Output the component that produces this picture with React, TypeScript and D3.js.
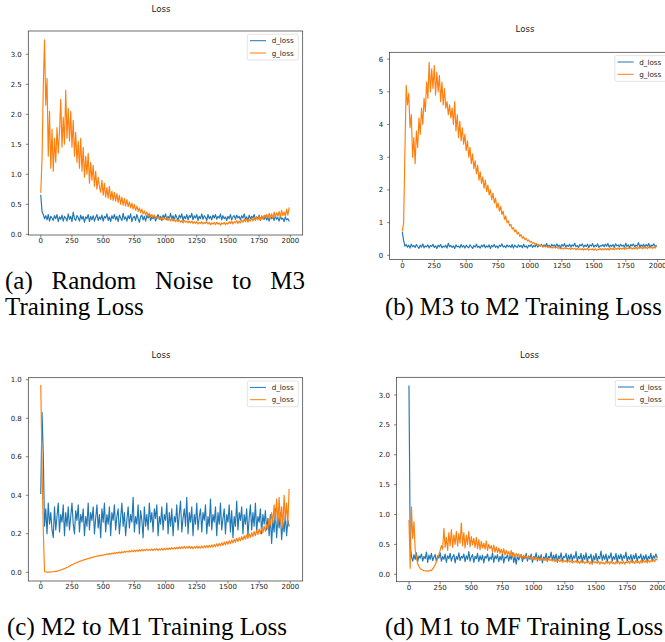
import React, { useLayoutEffect, useRef } from "react";
import * as d3 from "d3";

// ---------------- data ----------------
const EPOCH_STEP = 10;
const X_TICKS = [0, 250, 500, 750, 1000, 1250, 1500, 1750, 2000];
const Y_TICKS_A = [0, 0.5, 1, 1.5, 2, 2.5, 3];
const Y_TICKS_B = [0, 1, 2, 3, 4, 5, 6];
const Y_TICKS_C = [0, 0.2, 0.4, 0.6, 0.8, 1.0];
const Y_TICKS_D = [0, 0.5, 1, 1.5, 2, 2.5, 3];
const SERIES_NAMES = ["d_loss", "g_loss"];
const SERIES_COLORS = ["#1f77b4", "#ff7f0e"];
const TITLE = "Loss";

const A_D = [
  0.65, 0.38, 0.33, 0.26, 0.31, 0.24, 0.33, 0.22, 0.30, 0.27,
  0.23, 0.31, 0.26, 0.33, 0.21, 0.29, 0.25, 0.32, 0.22, 0.30,
  0.27, 0.22, 0.34, 0.25, 0.30, 0.21, 0.37, 0.26, 0.23, 0.31,
  0.28, 0.22, 0.32, 0.25, 0.30, 0.20, 0.29, 0.26, 0.33, 0.21,
  0.30, 0.24, 0.31, 0.22, 0.28, 0.33, 0.23, 0.29, 0.25, 0.32,
  0.22, 0.30, 0.27, 0.34, 0.23, 0.29, 0.21, 0.31, 0.26, 0.33,
  0.24, 0.30, 0.21, 0.32, 0.27, 0.23, 0.35, 0.25, 0.29, 0.22,
  0.31, 0.26, 0.34, 0.21, 0.28, 0.30, 0.23, 0.33, 0.26, 0.20,
  0.29, 0.32, 0.24, 0.30, 0.22, 0.31, 0.27, 0.34, 0.23, 0.29,
  0.26, 0.31, 0.22, 0.28, 0.33, 0.25, 0.30, 0.23, 0.32, 0.27,
  0.34, 0.24, 0.30, 0.26, 0.35, 0.25, 0.31, 0.23, 0.33, 0.28,
  0.24, 0.32, 0.27, 0.34, 0.23, 0.30, 0.26, 0.33, 0.24, 0.31,
  0.28, 0.35, 0.24, 0.31, 0.27, 0.33, 0.23, 0.30, 0.26, 0.34,
  0.25, 0.31, 0.28, 0.23, 0.33, 0.26, 0.30, 0.24, 0.32, 0.27,
  0.33, 0.25, 0.30, 0.27, 0.34, 0.24, 0.31, 0.26, 0.29, 0.23,
  0.30, 0.26, 0.33, 0.24, 0.29, 0.31, 0.25, 0.32, 0.27, 0.30,
  0.24, 0.31, 0.27, 0.34, 0.25, 0.29, 0.23, 0.32, 0.26, 0.30,
  0.27, 0.33, 0.24, 0.29, 0.26, 0.32, 0.23, 0.30, 0.27, 0.25,
  0.31, 0.24, 0.28, 0.22, 0.30, 0.26, 0.29, 0.23, 0.31, 0.25,
  0.28, 0.22, 0.30, 0.25, 0.27, 0.21, 0.29, 0.24, 0.26, 0.22,
];
const A_G = [
  0.70, 1.25, 2.45, 3.24, 2.15, 2.60, 1.30, 2.05, 1.10, 1.75,
  1.05, 1.60, 1.20, 1.78, 1.35, 1.70, 2.25, 1.45, 1.95, 1.50,
  2.40, 1.60, 2.10, 1.55, 2.05, 1.45, 1.90, 1.30, 1.70, 1.20,
  1.55, 1.10, 1.60, 1.05, 1.45, 0.95, 1.30, 1.00, 1.35, 0.85,
  1.20, 0.90, 1.15, 0.80, 1.05, 0.75, 0.95, 0.80, 0.70, 0.90,
  0.65, 0.85, 0.62, 0.78, 0.60, 0.80, 0.58, 0.72, 0.56, 0.70,
  0.55, 0.68, 0.53, 0.65, 0.50, 0.62, 0.48, 0.60, 0.47, 0.58,
  0.46, 0.54, 0.44, 0.52, 0.42, 0.50, 0.40, 0.47, 0.38, 0.44,
  0.36, 0.42, 0.34, 0.39, 0.32, 0.37, 0.30, 0.35, 0.29, 0.33,
  0.28, 0.32, 0.27, 0.30, 0.26, 0.29, 0.25, 0.28, 0.24, 0.27,
  0.25, 0.28, 0.23, 0.27, 0.22, 0.26, 0.22, 0.25, 0.21, 0.24,
  0.21, 0.24, 0.20, 0.23, 0.19, 0.23, 0.20, 0.22, 0.19, 0.22,
  0.19, 0.22, 0.18, 0.21, 0.18, 0.21, 0.17, 0.20, 0.18, 0.21,
  0.17, 0.20, 0.18, 0.21, 0.17, 0.20, 0.16, 0.19, 0.17, 0.20,
  0.16, 0.20, 0.17, 0.19, 0.15, 0.19, 0.17, 0.20, 0.16, 0.19,
  0.17, 0.21, 0.18, 0.22, 0.17, 0.21, 0.19, 0.23, 0.18, 0.22,
  0.19, 0.24, 0.20, 0.25, 0.21, 0.26, 0.20, 0.25, 0.22, 0.27,
  0.22, 0.28, 0.23, 0.29, 0.24, 0.30, 0.23, 0.31, 0.25, 0.32,
  0.26, 0.33, 0.27, 0.35, 0.28, 0.34, 0.27, 0.37, 0.29, 0.36,
  0.30, 0.38, 0.29, 0.40, 0.31, 0.37, 0.30, 0.42, 0.32, 0.44,
];

const B_D = [
  0.70, 0.45, 0.28, 0.33, 0.25, 0.31, 0.22, 0.34, 0.26, 0.30,
  0.24, 0.33, 0.27, 0.21, 0.31, 0.25, 0.35, 0.23, 0.29, 0.26,
  0.32, 0.22, 0.30, 0.27, 0.34, 0.24, 0.29, 0.21, 0.31, 0.26,
  0.33, 0.23, 0.28, 0.25, 0.31, 0.22, 0.37, 0.26, 0.30, 0.24,
  0.29, 0.21, 0.32, 0.26, 0.28, 0.23, 0.33, 0.25, 0.30, 0.22,
  0.31, 0.26, 0.23, 0.32, 0.27, 0.21, 0.30, 0.25, 0.34, 0.24,
  0.28, 0.22, 0.31, 0.26, 0.33, 0.23, 0.29, 0.25, 0.32, 0.21,
  0.30, 0.26, 0.33, 0.24, 0.29, 0.22, 0.31, 0.27, 0.35, 0.25,
  0.29, 0.23, 0.32, 0.26, 0.30, 0.24, 0.33, 0.22, 0.31, 0.27,
  0.24, 0.32, 0.26, 0.30, 0.23, 0.34, 0.25, 0.29, 0.22, 0.31,
  0.27, 0.33, 0.24, 0.30, 0.26, 0.35, 0.25, 0.31, 0.28, 0.34,
  0.25, 0.32, 0.27, 0.36, 0.26, 0.31, 0.24, 0.34, 0.28, 0.32,
  0.26, 0.35, 0.27, 0.31, 0.24, 0.33, 0.28, 0.36, 0.25, 0.31,
  0.27, 0.34, 0.25, 0.32, 0.28, 0.37, 0.26, 0.30, 0.24, 0.33,
  0.29, 0.35, 0.25, 0.31, 0.27, 0.34, 0.23, 0.32, 0.28, 0.36,
  0.25, 0.31, 0.27, 0.35, 0.24, 0.30, 0.28, 0.33, 0.26, 0.34,
  0.28, 0.36, 0.25, 0.31, 0.27, 0.33, 0.24, 0.35, 0.29, 0.32,
  0.26, 0.34, 0.28, 0.31, 0.25, 0.37, 0.27, 0.32, 0.24, 0.33,
  0.29, 0.35, 0.26, 0.31, 0.28, 0.39, 0.25, 0.32, 0.27, 0.34,
  0.26, 0.33, 0.28, 0.36, 0.25, 0.31, 0.29, 0.35, 0.27, 0.30,
];
const B_G = [
  0.75, 1.00, 3.20, 5.20, 4.60, 4.95, 3.90, 4.30, 3.00, 3.60,
  2.80, 3.80, 3.30, 4.20, 3.70, 4.50, 4.00, 4.80, 4.40, 5.30,
  4.80, 5.90, 5.00, 5.70, 5.10, 5.80, 4.90, 5.60, 5.00, 5.50,
  4.70, 5.30, 4.60, 5.10, 4.50, 4.70, 4.30, 4.60, 4.20, 4.50,
  4.00, 4.70, 3.80, 4.30, 3.60, 4.10, 3.50, 3.90, 3.40, 3.70,
  3.20, 3.50, 3.00, 3.30, 2.80, 3.10, 2.65, 2.90, 2.50, 2.75,
  2.30, 2.55, 2.20, 2.40, 2.05, 2.30, 1.95, 2.15, 1.85, 2.00,
  1.70, 1.90, 1.60, 1.75, 1.45, 1.60, 1.35, 1.50, 1.25, 1.35,
  1.10, 1.20, 1.00, 1.05, 0.90, 0.95, 0.80, 0.85, 0.72, 0.78,
  0.65, 0.70, 0.58, 0.63, 0.52, 0.57, 0.48, 0.52, 0.44, 0.47,
  0.40, 0.43, 0.36, 0.39, 0.33, 0.36, 0.30, 0.33, 0.28, 0.31,
  0.27, 0.29, 0.25, 0.28, 0.24, 0.27, 0.23, 0.26, 0.22, 0.25,
  0.22, 0.25, 0.21, 0.24, 0.20, 0.23, 0.19, 0.23, 0.20, 0.22,
  0.19, 0.22, 0.18, 0.22, 0.19, 0.21, 0.17, 0.21, 0.18, 0.20,
  0.17, 0.21, 0.16, 0.20, 0.17, 0.21, 0.16, 0.19, 0.17, 0.20,
  0.16, 0.20, 0.15, 0.19, 0.17, 0.21, 0.16, 0.20, 0.17, 0.21,
  0.17, 0.21, 0.16, 0.22, 0.18, 0.21, 0.17, 0.22, 0.18, 0.23,
  0.18, 0.22, 0.19, 0.23, 0.18, 0.24, 0.19, 0.23, 0.20, 0.24,
  0.19, 0.23, 0.20, 0.25, 0.19, 0.24, 0.21, 0.25, 0.20, 0.26,
  0.21, 0.25, 0.20, 0.26, 0.22, 0.27, 0.21, 0.25, 0.22, 0.28,
];

const C_D = [
  0.41, 0.83, 0.61, 0.24, 0.33, 0.20, 0.36, 0.25, 0.31, 0.22,
  0.18, 0.34, 0.22, 0.29, 0.36, 0.21, 0.30, 0.26, 0.35, 0.19,
  0.31, 0.24, 0.34, 0.22, 0.29, 0.36, 0.25, 0.20, 0.32, 0.27,
  0.35, 0.21, 0.30, 0.26, 0.33, 0.19, 0.29, 0.24, 0.36, 0.22,
  0.31, 0.27, 0.34, 0.20, 0.28, 0.35, 0.23, 0.30, 0.18, 0.33,
  0.26, 0.36, 0.21, 0.30, 0.25, 0.34, 0.19, 0.31, 0.27, 0.35,
  0.22, 0.29, 0.33, 0.20, 0.28, 0.36, 0.24, 0.31, 0.19, 0.27,
  0.34, 0.23, 0.30, 0.26, 0.39, 0.21, 0.29, 0.25, 0.35, 0.20,
  0.32, 0.27, 0.18, 0.34, 0.24, 0.30, 0.22, 0.36, 0.26, 0.31,
  0.21, 0.33, 0.28, 0.35, 0.19, 0.29, 0.25, 0.34, 0.22, 0.30,
  0.27, 0.36, 0.20, 0.31, 0.24, 0.33, 0.19, 0.29, 0.26, 0.35,
  0.22, 0.30, 0.37, 0.21, 0.28, 0.33, 0.24, 0.39, 0.20, 0.31,
  0.26, 0.34, 0.19, 0.30, 0.25, 0.36, 0.22, 0.29, 0.33, 0.21,
  0.31, 0.27, 0.35, 0.20, 0.29, 0.24, 0.38, 0.22, 0.30, 0.26,
  0.34, 0.19, 0.31, 0.25, 0.36, 0.22, 0.28, 0.33, 0.20, 0.30,
  0.26, 0.35, 0.21, 0.32, 0.18, 0.29, 0.24, 0.37, 0.22, 0.31,
  0.27, 0.34, 0.20, 0.30, 0.25, 0.33, 0.19, 0.28, 0.35, 0.22,
  0.31, 0.24, 0.36, 0.21, 0.29, 0.26, 0.33, 0.20, 0.30, 0.25,
  0.32, 0.22, 0.28, 0.19, 0.30, 0.15, 0.27, 0.21, 0.33, 0.18,
  0.29, 0.23, 0.31, 0.17, 0.26, 0.21, 0.30, 0.19, 0.27, 0.24,
];
const C_G = [
  0.97, 0.55, 0.22, 0.004, 0.002, 0.001, 0.001, 0.002, 0.002, 0.003,
  0.003, 0.004, 0.005, 0.006, 0.008, 0.010, 0.012, 0.014, 0.017, 0.020,
  0.022, 0.026, 0.028, 0.033, 0.035, 0.040, 0.042, 0.046, 0.048, 0.052,
  0.053, 0.057, 0.058, 0.062, 0.063, 0.066, 0.067, 0.070, 0.071, 0.074,
  0.075, 0.078, 0.077, 0.082, 0.081, 0.085, 0.084, 0.088, 0.086, 0.090,
  0.088, 0.093, 0.090, 0.096, 0.092, 0.098, 0.094, 0.100, 0.096, 0.102,
  0.098, 0.104, 0.099, 0.106, 0.100, 0.107, 0.102, 0.109, 0.104, 0.110,
  0.105, 0.112, 0.106, 0.114, 0.107, 0.115, 0.108, 0.116, 0.109, 0.118,
  0.110, 0.120, 0.111, 0.118, 0.112, 0.121, 0.113, 0.119, 0.114, 0.122,
  0.113, 0.121, 0.115, 0.123, 0.114, 0.122, 0.116, 0.124, 0.115, 0.125,
  0.117, 0.126, 0.118, 0.127, 0.119, 0.128, 0.120, 0.129, 0.121, 0.130,
  0.122, 0.132, 0.123, 0.133, 0.124, 0.135, 0.124, 0.134, 0.125, 0.136,
  0.124, 0.134, 0.123, 0.133, 0.125, 0.136, 0.124, 0.135, 0.126, 0.137,
  0.126, 0.138, 0.127, 0.139, 0.128, 0.141, 0.130, 0.143, 0.131, 0.145,
  0.133, 0.148, 0.135, 0.150, 0.138, 0.154, 0.140, 0.157, 0.143, 0.160,
  0.146, 0.164, 0.149, 0.168, 0.153, 0.172, 0.156, 0.176, 0.160, 0.180,
  0.164, 0.185, 0.168, 0.190, 0.172, 0.195, 0.176, 0.200, 0.181, 0.206,
  0.186, 0.212, 0.190, 0.218, 0.196, 0.225, 0.200, 0.232, 0.206, 0.240,
  0.212, 0.250, 0.225, 0.280, 0.245, 0.310, 0.260, 0.350, 0.270, 0.380,
  0.250, 0.390, 0.260, 0.340, 0.230, 0.400, 0.270, 0.360, 0.250, 0.430,
];

const D_D = [
  3.15, 0.50, 0.30, 0.22, 0.33, 0.25, 0.36, 0.21, 0.31, 0.27,
  0.34, 0.22, 0.30, 0.26, 0.37, 0.20, 0.32, 0.25, 0.35, 0.23,
  0.29, 0.33, 0.21, 0.31, 0.27, 0.36, 0.22, 0.30, 0.25, 0.34,
  0.20, 0.31, 0.26, 0.35, 0.22, 0.29, 0.33, 0.19, 0.30, 0.25,
  0.36, 0.23, 0.30, 0.27, 0.34, 0.21, 0.31, 0.25, 0.38, 0.22,
  0.29, 0.33, 0.20, 0.30, 0.26, 0.35, 0.21, 0.31, 0.24, 0.32,
  0.19, 0.30, 0.27, 0.34, 0.22, 0.29, 0.25, 0.36, 0.20, 0.31,
  0.26, 0.33, 0.21, 0.30, 0.24, 0.35, 0.19, 0.29, 0.27, 0.33,
  0.22, 0.31, 0.25, 0.36, 0.20, 0.30, 0.17, 0.32, 0.24, 0.29,
  0.33, 0.21, 0.30, 0.26, 0.35, 0.22, 0.31, 0.25, 0.34, 0.20,
  0.30, 0.27, 0.36, 0.22, 0.31, 0.24, 0.33, 0.19, 0.29, 0.26,
  0.35, 0.21, 0.30, 0.27, 0.37, 0.23, 0.32, 0.25, 0.34, 0.20,
  0.31, 0.26, 0.36, 0.22, 0.30, 0.28, 0.35, 0.21, 0.32, 0.25,
  0.34, 0.23, 0.31, 0.27, 0.38, 0.22, 0.30, 0.26, 0.35, 0.20,
  0.32, 0.25, 0.36, 0.21, 0.30, 0.27, 0.34, 0.17, 0.31, 0.24,
  0.35, 0.22, 0.30, 0.26, 0.39, 0.23, 0.32, 0.25, 0.34, 0.21,
  0.31, 0.27, 0.36, 0.22, 0.30, 0.25, 0.35, 0.20, 0.32, 0.26,
  0.34, 0.23, 0.31, 0.27, 0.37, 0.22, 0.30, 0.25, 0.33, 0.21,
  0.32, 0.26, 0.35, 0.22, 0.30, 0.27, 0.34, 0.21, 0.31, 0.25,
  0.33, 0.22, 0.30, 0.26, 0.35, 0.23, 0.31, 0.27, 0.34, 0.28,
];
const D_G = [
  0.90, 0.10, 1.13, 0.60, 0.88, 0.40, 0.28, 0.18, 0.13, 0.10,
  0.08, 0.07, 0.06, 0.06, 0.05, 0.06, 0.05, 0.07, 0.06, 0.09,
  0.12, 0.16, 0.21, 0.27, 0.33, 0.40, 0.48, 0.42, 0.77, 0.45,
  0.62, 0.40, 0.70, 0.48, 0.75, 0.45, 0.66, 0.50, 0.72, 0.47,
  0.68, 0.52, 0.86, 0.48, 0.70, 0.44, 0.65, 0.50, 0.72, 0.46,
  0.63, 0.49, 0.60, 0.45, 0.62, 0.43, 0.58, 0.41, 0.55, 0.44,
  0.52, 0.42, 0.56, 0.40, 0.50, 0.43, 0.48, 0.38, 0.49, 0.37,
  0.46, 0.36, 0.44, 0.35, 0.42, 0.34, 0.43, 0.32, 0.40, 0.33,
  0.38, 0.31, 0.40, 0.30, 0.36, 0.29, 0.35, 0.30, 0.34, 0.28,
  0.33, 0.27, 0.32, 0.28, 0.31, 0.26, 0.30, 0.27, 0.29, 0.25,
  0.29, 0.24, 0.28, 0.25, 0.27, 0.23, 0.28, 0.24, 0.26, 0.23,
  0.26, 0.22, 0.27, 0.23, 0.25, 0.22, 0.26, 0.21, 0.25, 0.22,
  0.24, 0.21, 0.25, 0.20, 0.24, 0.21, 0.23, 0.20, 0.24, 0.20,
  0.23, 0.19, 0.22, 0.20, 0.23, 0.19, 0.22, 0.18, 0.23, 0.19,
  0.22, 0.18, 0.21, 0.19, 0.22, 0.17, 0.21, 0.18, 0.22, 0.19,
  0.21, 0.18, 0.22, 0.17, 0.21, 0.18, 0.20, 0.17, 0.22, 0.18,
  0.21, 0.17, 0.22, 0.18, 0.20, 0.17, 0.21, 0.18, 0.22, 0.17,
  0.21, 0.18, 0.22, 0.17, 0.21, 0.19, 0.22, 0.18, 0.23, 0.19,
  0.22, 0.18, 0.23, 0.19, 0.22, 0.18, 0.23, 0.19, 0.24, 0.20,
  0.23, 0.19, 0.24, 0.20, 0.23, 0.21, 0.25, 0.21, 0.26, 0.24,
];

const CAPTION_A1 = ["(a)", "Random", "Noise", "to", "M3"];
const CAPTION_A2 = "Training Loss";
const CAPTION_B = "(b) M3 to M2 Training Loss";
const CAPTION_C = "(c) M2 to M1 Training Loss";
const CAPTION_D = "(d) M1 to MF Training Loss";

// ---------------- components ----------------
const SANS = "'DejaVu Sans', Verdana, sans-serif";
const SERIF = "'Liberation Serif', 'Times New Roman', Times, serif";
const TICK_FONT = 7;

type PanelProps = {
  left: number; right: number; top: number; bottom: number;
  yDomain: [number, number]; yTicks: number[]; yFmt: (v: number) => string;
  d: number[]; g: number[]; titleX: number; titleY: number;
};

function Panel(p: PanelProps) {
  const x = d3.scaleLinear().domain([-100, 2099]).range([p.left, p.right]);
  const y = d3.scaleLinear().domain(p.yDomain).range([p.bottom, p.top]);
  const line = d3
    .line<number>()
    .x((_, i) => x(i * EPOCH_STEP))
    .y((v) => y(v));
  const series = [p.d, p.g];
  const lgRight = p.right - 4.4;
  const lgLeft = lgRight - 51;
  const lgTop = p.top + 3.3;
  return (
    <g>
      <text x={p.titleX} y={p.titleY} textAnchor="middle" fontFamily={SANS} fontSize={8.6} fill="#222">
        {TITLE}
      </text>
      {series.map((s, i) => (
        <path key={i} d={line(s) || ""} fill="none" stroke={SERIES_COLORS[i]} strokeWidth={1.15}
          strokeLinejoin="round" strokeLinecap="square" />
      ))}
      <rect x={p.left} y={p.top} width={p.right - p.left} height={p.bottom - p.top}
        fill="none" stroke="#333" strokeWidth={0.7} />
      {X_TICKS.map((t) => (
        <g key={t}>
          <line x1={x(t)} x2={x(t)} y1={p.bottom} y2={p.bottom + 2.5} stroke="#333" strokeWidth={0.6} />
          <text x={x(t)} y={p.bottom + 8.3} textAnchor="middle" fontFamily={SANS} fontSize={TICK_FONT} fill="#222">
            {t}
          </text>
        </g>
      ))}
      {p.yTicks.map((t) => (
        <g key={t}>
          <line x1={p.left - 2.5} x2={p.left} y1={y(t)} y2={y(t)} stroke="#333" strokeWidth={0.6} />
          <text x={p.left - 6.5} y={y(t)} dy="0.36em" textAnchor="end" fontFamily={SANS} fontSize={TICK_FONT} fill="#222">
            {p.yFmt(t)}
          </text>
        </g>
      ))}
      <rect x={lgLeft} y={lgTop} width={51} height={25.7} rx={1.5} fill="#fff" fillOpacity={0.8}
        stroke="#d0d0d0" strokeWidth={0.6} />
      {SERIES_NAMES.map((n, i) => {
        const ly = lgTop + 6.4 + i * 12.3;
        return (
          <g key={n}>
            <line x1={lgLeft + 2.7} x2={lgLeft + 18.7} y1={ly} y2={ly} stroke={SERIES_COLORS[i]} strokeWidth={1} />
            <text x={lgLeft + 24.4} y={ly} dy="0.36em" fontFamily={SANS} fontSize={7.2} fill="#222">
              {n}
            </text>
          </g>
        );
      })}
    </g>
  );
}

// words spread so that the line fills x0..x1
function Justified({ words, x0, x1, y, size }: { words: string[]; x0: number; x1: number; y: number; size: number }) {
  const ref = useRef<SVGGElement>(null);
  useLayoutEffect(() => {
    const g = ref.current;
    if (!g) return;
    const nodes = Array.from(g.querySelectorAll("text")) as SVGTextElement[];
    const widths = nodes.map((n) => n.getComputedTextLength());
    const gap = (x1 - x0 - d3.sum(widths)) / (nodes.length - 1);
    let cx = x0;
    nodes.forEach((n, i) => {
      n.setAttribute("x", String(cx));
      cx += widths[i] + gap;
    });
  }, [words, x0, x1]);
  return (
    <g ref={ref}>
      {words.map((w, i) => (
        <text key={i} x={x0} y={y} fontFamily={SERIF} fontSize={size} fill="#000">
          {w}
        </text>
      ))}
    </g>
  );
}

const f1 = (v: number) => v.toFixed(1);
const f0 = (v: number) => v.toFixed(0);

export default function App() {
  const CAP = 25;
  const CAP_R = 24.6;
  return (
    <svg width={665} height={642} style={{ position: "absolute", left: 0, top: 0, background: "#fff" }}>
      <Panel left={28.3} right={302.7} top={31} bottom={235} yDomain={[-0.012, 3.388]} yTicks={Y_TICKS_A}
        yFmt={f1} d={A_D} g={A_G} titleX={161} titleY={12.3} />
      <Panel left={389.6} right={670.3} top={52.3} bottom={259.5} yDomain={[-0.128, 6.208]} yTicks={Y_TICKS_B}
        yFmt={f0} d={B_D} g={B_G} titleX={525} titleY={32.3} />
      <Panel left={28.3} right={302.7} top={377.7} bottom={581} yDomain={[-0.045, 1.0104]} yTicks={Y_TICKS_C}
        yFmt={f1} d={C_D} g={C_G} titleX={161} titleY={358.3} />
      <Panel left={396.5} right={670.7} top={377.3} bottom={581.7} yDomain={[-0.124, 3.296]} yTicks={Y_TICKS_D}
        yFmt={f1} d={D_D} g={D_G} titleX={529.5} titleY={358.3} />

      <Justified words={CAPTION_A1} x0={5} x1={305} y={289} size={CAP} />
      <text x={5} y={315} fontFamily={SERIF} fontSize={CAP}>{CAPTION_A2}</text>
      <text x={385} y={315} fontFamily={SERIF} fontSize={CAP_R}>{CAPTION_B}</text>
      <text x={7} y={635} fontFamily={SERIF} fontSize={CAP}>{CAPTION_C}</text>
      <text x={385} y={635} fontFamily={SERIF} fontSize={CAP_R}>{CAPTION_D}</text>
    </svg>
  );
}
